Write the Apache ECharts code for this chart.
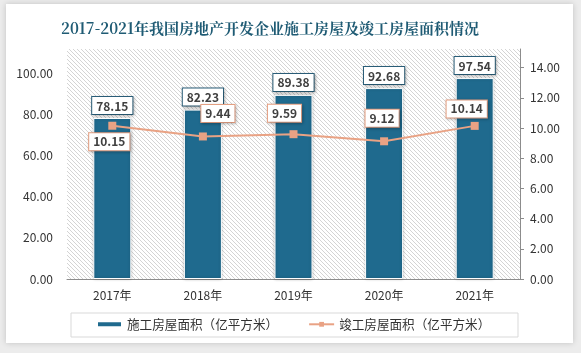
<!DOCTYPE html>
<html>
<head>
<meta charset="utf-8">
<script src="https://cdn.jsdelivr.net/npm/echarts@6/dist/echarts.min.js"></script>
<style>
  html, body { margin: 0; padding: 0; background: #ececec; }
  #chart { width: 581px; height: 353px; }
</style>
</head>
<body>
<div id="chart"></div>
<script>
// data
var years = ['2017年', '2018年', '2019年', '2020年', '2021年']
var buildArea = [78.15, 82.23, 89.38, 92.68, 97.54]
var doneArea = [10.15, 9.44, 9.59, 9.12, 10.14]
var leftTicks = ['0.00', '20.00', '40.00', '60.00', '80.00', '100.00']
var rightTicks = ['0.00', '2.00', '4.00', '6.00', '8.00', '10.00', '12.00', '14.00']
// label offsets for the line labels (picked by eye)
var doneOffsets = [[-3, 16], [15, -23], [-9, -21], [-2, -23], [-8, -17]]

// hatch pattern for plot background
var hatch = document.createElement('canvas')
hatch.width = 4
hatch.height = 4
var ctx = hatch.getContext('2d')
ctx.fillStyle = '#ffffff'
ctx.fillRect(0, 0, 4, 4)
ctx.strokeStyle = '#d4d4d4'
ctx.lineWidth = 1
ctx.beginPath()
ctx.moveTo(-1, -1); ctx.lineTo(5, 5)
ctx.moveTo(-1, 3); ctx.lineTo(1, 5)
ctx.moveTo(3, -1); ctx.lineTo(5, 1)
ctx.stroke()

var barColor = '#1f6a8e'
var lineColor = '#e9a284'
var font = '"Noto Sans CJK SC", "Noto Sans", sans-serif'

var myChart = echarts.init(document.getElementById('chart'))
myChart.setOption({
  animation: false,
  textStyle: { fontFamily: font },
  graphic: [{
    type: 'rect',
    z: -10,
    shape: { x: 6, y: 4, width: 567, height: 339 },
    style: {
      fill: '#ffffff',
      shadowBlur: 6,
      shadowColor: 'rgba(0,0,0,0.18)'
    }
  }, {
    type: 'rect',
    z: -5,
    shape: { x: 71, y: 313, width: 447, height: 24 },
    style: { fill: 'none', stroke: '#d9d9d9', lineWidth: 1 }
  }],
  title: {
    text: '2017-2021年我国房地产开发企业施工房屋及竣工房屋面积情况',
    left: 265,
    top: 16,
    textAlign: 'center',
    textStyle: {
      color: '#1f5b74',
      fontSize: 15,
      fontWeight: 'bold',
      fontFamily: '"Noto Serif CJK SC", "Noto Sans CJK SC", serif'
    }
  },
  legend: {
    top: 318,
    left: 96,
    padding: 0,
    itemWidth: 25,
    itemHeight: 6,
    itemGap: 30,
    textStyle: { fontSize: 12.6, color: '#333' },
    data: [
      { name: '施工房屋面积（亿平方米）', icon: 'rect' },
      { name: '竣工房屋面积（亿平方米）' }
    ]
  },
  grid: {
    left: 67,
    right: 61,
    top: 49,
    bottom: 74,
    show: true,
    borderWidth: 0,
    backgroundColor: { image: hatch, repeat: 'repeat' }
  },
  xAxis: {
    type: 'category',
    data: years,
    axisTick: { show: false },
    axisLine: { lineStyle: { color: '#8c8c8c' } },
    axisLabel: { color: '#333', fontSize: 12, margin: 10 }
  },
  yAxis: [{
    type: 'value',
    min: 0,
    max: 230 / 2.06,
    interval: 20,
    axisLine: { show: false },
    axisTick: { show: false },
    splitLine: { show: false },
    axisLabel: {
      color: '#333',
      fontSize: 12,
      margin: 14,
      showMaxLabel: false,
      formatter: function (v) {
        return leftTicks[Math.round(v / 20)] || ''
      }
    }
  }, {
    type: 'value',
    min: 0,
    max: 230 / 15.1,
    interval: 2,
    position: 'right',
    axisLine: { show: true, lineStyle: { color: '#8c8c8c' } },
    axisTick: { show: true, length: 4, lineStyle: { color: '#8c8c8c' } },
    splitLine: { show: false },
    axisLabel: {
      color: '#333',
      fontSize: 12,
      margin: 10,
      showMaxLabel: false,
      formatter: function (v) {
        return rightTicks[Math.round(v / 2)] || ''
      }
    }
  }],
  series: [{
    name: '施工房屋面积（亿平方米）',
    type: 'bar',
    barWidth: 38,
    data: buildArea,
    itemStyle: {
      color: barColor,
      borderColor: '#ffffff',
      borderWidth: 1,
      shadowBlur: 3,
      shadowColor: 'rgba(0,0,0,0.25)'
    },
    label: {
      show: true,
      position: 'top',
      distance: 4,
      formatter: function (p) { return p.value.toFixed(2) },
      color: '#404040',
      fontSize: 12,
      fontWeight: 'bold',
      backgroundColor: '#ffffff',
      borderColor: '#2a5f7a',
      borderWidth: 1,
      padding: [3, 4, 2, 4],
      shadowBlur: 3,
      shadowColor: 'rgba(0,0,0,0.25)',
      shadowOffsetX: 1,
      shadowOffsetY: 1
    },
    z: 2
  }, {
    name: '竣工房屋面积（亿平方米）',
    type: 'line',
    yAxisIndex: 1,
    symbol: 'rect',
    symbolSize: 8,
    data: doneArea.map(function (v, i) {
      return { value: v, label: { offset: doneOffsets[i] } }
    }),
    lineStyle: { color: lineColor, width: 2 },
    itemStyle: { color: lineColor },
    label: {
      show: true,
      position: 'inside',
      formatter: function (p) { return p.value.toFixed(2) },
      color: '#404040',
      fontSize: 12,
      fontWeight: 'bold',
      backgroundColor: '#ffffff',
      borderColor: lineColor,
      borderWidth: 1,
      padding: [3, 4, 2, 4],
      shadowBlur: 3,
      shadowColor: 'rgba(0,0,0,0.25)',
      shadowOffsetX: 1,
      shadowOffsetY: 1
    },
    z: 3
  }]
})
</script>
</body>
</html>
